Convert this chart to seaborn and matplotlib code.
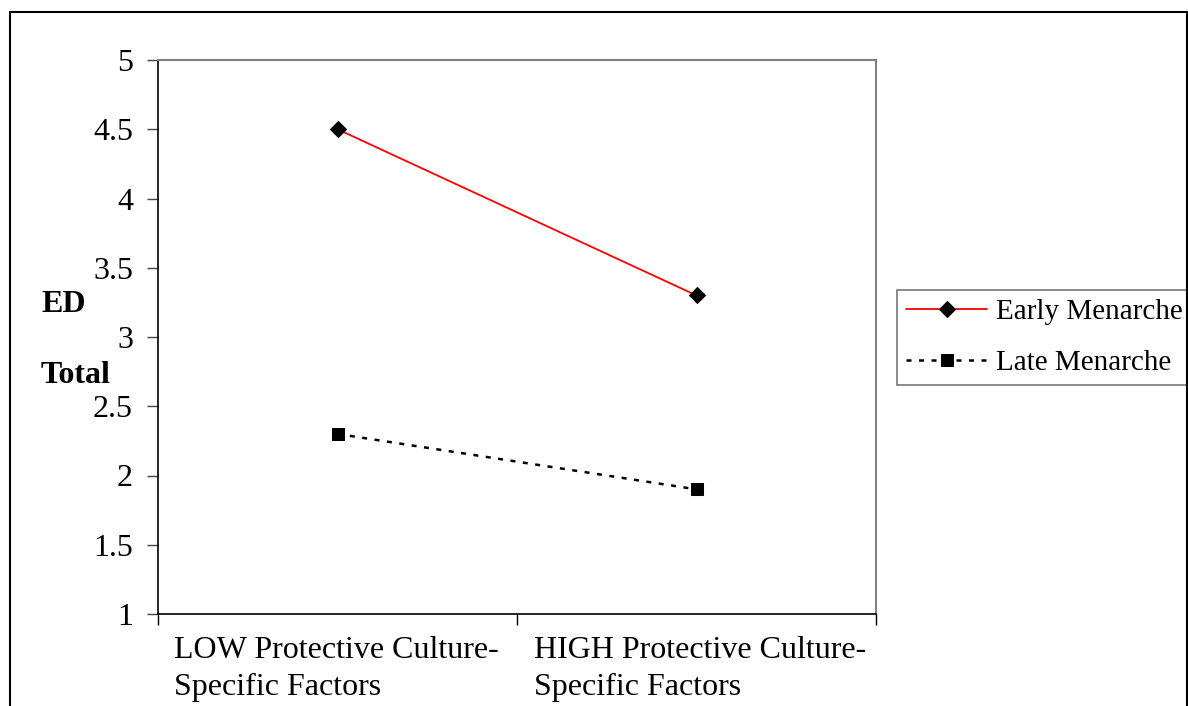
import numpy as np
import pandas as pd
import matplotlib
matplotlib.use("Agg")
import matplotlib.pyplot as plt
import seaborn as sns
from matplotlib.patches import Rectangle
from matplotlib.transforms import ScaledTranslation

categories = ["LOW Protective Culture-\nSpecific Factors", "HIGH Protective Culture-\nSpecific Factors"]
early = [4.5, 3.3]
late = [2.3, 1.9]
series_names = ["Early Menarche", "Late Menarche"]
y_ticks = [1, 1.5, 2, 2.5, 3, 3.5, 4, 4.5, 5]

sns.set_style("white")
plt.rcParams['font.family'] = ['Liberation Serif', 'DejaVu Serif']
plt.rcParams['text.color'] = 'black'
plt.rcParams['xtick.color'] = 'black'
plt.rcParams['ytick.color'] = 'black'
plt.rcParams['xtick.labelcolor'] = 'black'
plt.rcParams['ytick.labelcolor'] = 'black'

W, H = 1188, 706
fig = plt.figure(figsize=(W / 100, H / 100), dpi=100)
ax = fig.add_axes([158 / W, 1 - 614 / H, (876 - 158) / W, (614 - 60) / H])

pos = np.arange(len(categories))
df_early = pd.DataFrame({"x": pos, "y": early})
df_late = pd.DataFrame({"x": pos, "y": late})

sns.lineplot(data=df_early, x="x", y="y", ax=ax, color="red", lw=1.3,
             marker="D", markersize=8, markerfacecolor="black",
             markeredgecolor="black", label=series_names[0])
sns.lineplot(data=df_late, x="x", y="y", ax=ax, color="black", lw=1.8,
             linestyle=(0, (2, 3)), marker="s", markersize=8.5,
             markerfacecolor="black", markeredgecolor="black",
             label=series_names[1])

ax.set_xlim(-0.5, 1.5)
ax.set_ylim(1, 5)
ax.set_yticks(y_ticks)
ax.set_yticklabels([f"{v:g}" for v in y_ticks], fontsize=23, color="black")
ax.set_xticks([-0.5, 0.5, 1.5])
ax.set_xticklabels([])
ax.set_xticks(pos, minor=True)
ax.set_xticklabels(categories, minor=True, fontsize=23, ha="left",
                   linespacing=1.35, color="black")
ax.tick_params(axis="x", which="minor", bottom=True, length=0, pad=16)
ax.tick_params(axis="x", which="major", bottom=True, length=8, width=1,
               color="black", direction="out")
ax.tick_params(axis="y", left=True, length=8, width=1, color="#444444",
               direction="out", pad=10)
ax.set_xlabel("")
ax.set_ylabel("")

# category labels start just right of the boundary tick, as in Excel
for lab in ax.get_xticklabels(minor=True):
    lab.set_transform(lab.get_transform() + ScaledTranslation(-1.63, 0, fig.dpi_scale_trans))

for side in ["left", "bottom"]:
    ax.spines[side].set_color("black")
    ax.spines[side].set_linewidth(1.2)
for side in ["top", "right"]:
    ax.spines[side].set_color("#808080")
    ax.spines[side].set_linewidth(1.5)

fig.text(41 / W, 1 - 312 / H, "ED", fontsize=23, fontweight="bold", va="baseline", ha="left", color="black")
fig.text(41 / W, 1 - 383 / H, "Total", fontsize=23, fontweight="bold", va="baseline", ha="left", color="black")

leg = ax.legend(loc="upper left", bbox_to_anchor=(897 / W, 1 - 290 / H),
                bbox_transform=fig.transFigure, frameon=True, fancybox=False,
                fontsize=21, handlelength=2.8, handletextpad=0.3,
                borderpad=0.3, labelspacing=0.85, borderaxespad=0)
leg.get_frame().set_edgecolor("#555555")
leg.get_frame().set_linewidth(1.2)
for t in leg.get_texts():
    t.set_color("black")

fig.patches.append(Rectangle((10 / W, -0.01), (1187 - 10) / W, 1 - 12 / H + 0.01,
                             transform=fig.transFigure, fill=False,
                             edgecolor="black", linewidth=1.5))

fig.savefig("out.png", dpi=100)
